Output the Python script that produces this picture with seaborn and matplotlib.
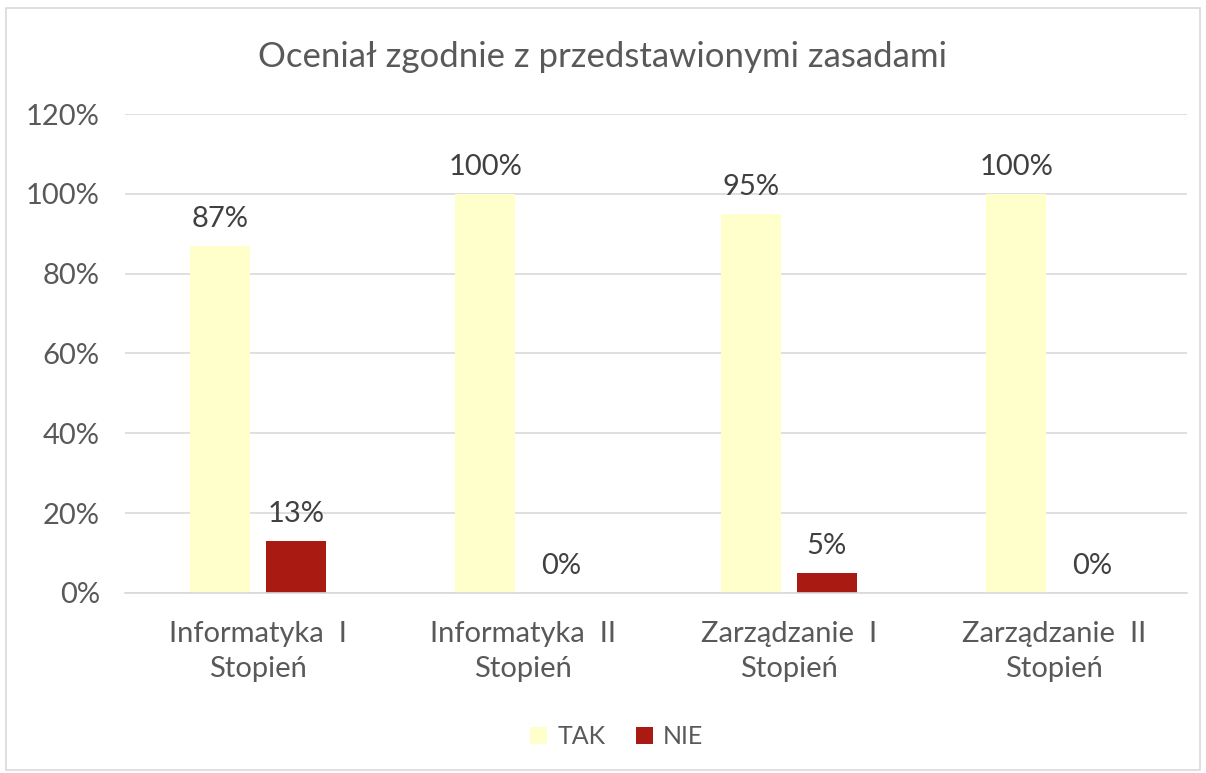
import pandas as pd
import matplotlib.pyplot as plt
import seaborn as sns
from matplotlib.ticker import PercentFormatter
from matplotlib.patches import Rectangle

categories = ['Informatyka  I\nStopień', 'Informatyka  II\nStopień',
              'Zarządzanie  I\nStopień', 'Zarządzanie  II\nStopień']
tak = [0.87, 1.00, 0.95, 1.00]
nie = [0.13, 0.00, 0.05, 0.00]

df = pd.DataFrame({'Kierunek': categories * 2,
                   'Odpowiedź': ['TAK'] * 4 + ['NIE'] * 4,
                   'Wartość': tak + nie})

sns.set_theme(style="white")
plt.rcParams['font.family'] = ['Lato', 'DejaVu Sans']
text_color = '#595959'

fig = plt.figure(figsize=(12.06, 7.73), dpi=100)
ax = fig.add_axes([0.1036, 0.2329, 0.8806, 0.6196])

sns.barplot(data=df, x='Kierunek', y='Wartość', hue='Odpowiedź',
            palette=['#FFFFCC', '#A81A12'], width=0.572, gap=0.21,
            saturation=1, linewidth=0, ax=ax)

for cont in ax.containers:
    ax.bar_label(cont, labels=[f'{v * 100:.0f}%' for v in cont.datavalues],
                 padding=10, fontsize=21, color='#404040')

ax.set_ylim(0, 1.2)
ax.set_yticks([0, 0.2, 0.4, 0.6, 0.8, 1.0, 1.2])
ax.yaxis.set_major_formatter(PercentFormatter(1.0, decimals=0))
ax.grid(axis='y', color='#D9D9D9', linewidth=1.2)
ax.set_axisbelow(True)
for s in ['top', 'right', 'left']:
    ax.spines[s].set_visible(False)
ax.spines['bottom'].set_color('#D9D9D9')
ax.spines['bottom'].set_linewidth(1.2)
ax.tick_params(axis='y', labelsize=21, colors=text_color, length=0, pad=18)
ax.tick_params(axis='x', labelsize=21, colors=text_color, length=0, pad=20)
for lbl in ax.get_xticklabels():
    lbl.set_linespacing(1.45)
ax.set_xlabel('')
ax.set_ylabel('')

fig.suptitle('Oceniał zgodnie z przedstawionymi zasadami', fontsize=25,
             color=text_color, y=0.926, va='center')

ax.legend(loc='center', bbox_to_anchor=(0.463, -0.3007), ncol=2, frameon=False,
          fontsize=18, labelcolor=text_color, handlelength=0.7, handleheight=0.7,
          handletextpad=0.4, columnspacing=1.2)

fig.patches.append(Rectangle((6 / 1206, 3 / 773), 1194 / 1206, 762 / 773,
                             transform=fig.transFigure, fill=False,
                             edgecolor='#D9D9D9', linewidth=1.2))

plt.savefig('out.png', dpi=100)
